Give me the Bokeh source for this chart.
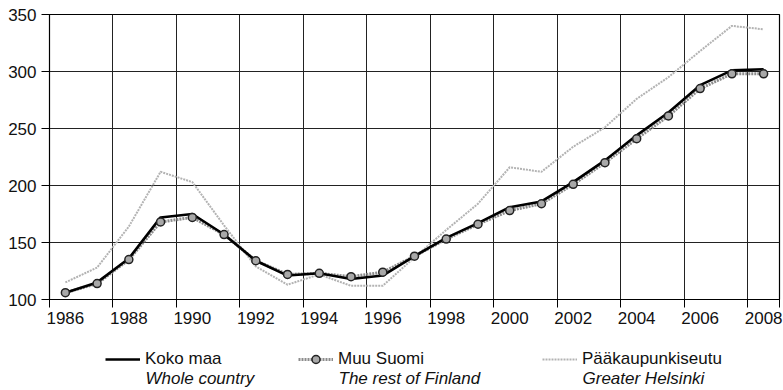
from bokeh.plotting import figure
from bokeh.layouts import column
from bokeh.models import (Range1d, FixedTicker, Legend, LegendItem, Label)
from bokeh.embed import file_html
from bokeh.resources import INLINE

years = list(range(1986, 2009))
koko_maa = [106, 115, 136, 172, 175, 157, 134, 121, 123, 118, 121, 138, 154,
            167, 181, 186, 203, 222, 244, 264, 288, 301, 302]
muu_suomi = [106, 114, 135, 168, 172, 157, 134, 122, 123, 120, 124, 138, 153,
             166, 178, 184, 201, 220, 241, 261, 285, 298, 298]
paakaupunkiseutu = [115, 128, 164, 212, 203, 165, 129, 113, 122, 112, 112, 137,
                    161, 184, 216, 212, 234, 251, 276, 295, 318, 340, 337]
x_tick_labels = [1986, 1988, 1990, 1992, 1994, 1996, 1998, 2000, 2002, 2004, 2006, 2008]
y_ticks = [100, 150, 200, 250, 300, 350]
legend_titles = ["Koko maa", "Muu Suomi", "Pääkaupunkiseutu"]
legend_subtitles = ["Whole  country", "The rest of Finland", "Greater Helsinki"]

FONT = "Liberation Sans"
FS = "17px"

STYLE_PK = dict(line_color="#b3b3b3", line_width=2, line_dash="2 1")
STYLE_MUU = dict(line_color="#8c8c8c", line_width=3, line_dash="2 1")
STYLE_KOKO = dict(line_color="black", line_width=2.6)
STYLE_PTS = dict(size=8, fill_color="#a8a8a8", line_color="#222222", line_width=1.5)

boundaries = [y - 0.5 for y in years[::2]] + [years[-1] + 0.5]

# ---------------- main chart ----------------
p = figure(width=783, height=335, output_backend="svg", toolbar_location=None,
           x_range=Range1d(years[0] - 0.5, years[-1] + 0.5),
           y_range=Range1d(y_ticks[0], y_ticks[-1]),
           min_border_left=49, min_border_right=4, min_border_top=14,
           min_border_bottom=36)
p.background_fill_color = "white"
p.border_fill_color = "white"
p.outline_line_color = "black"
p.outline_line_width = 1.2

p.xgrid.ticker = FixedTicker(ticks=boundaries)
p.ygrid.ticker = FixedTicker(ticks=y_ticks)
for g in (p.xgrid, p.ygrid):
    g.grid_line_color = "#222222"
    g.grid_line_width = 1

xa = p.xaxis[0]
xa.ticker = FixedTicker(ticks=x_tick_labels, minor_ticks=boundaries)
xa.major_tick_out = 0
xa.major_tick_in = 0
xa.minor_tick_out = 8
xa.minor_tick_in = 0
xa.minor_tick_line_color = "black"
xa.axis_line_color = "black"
xa.major_label_standoff = 4
ya = p.yaxis[0]
ya.ticker = FixedTicker(ticks=y_ticks)
ya.major_tick_out = 8
ya.major_tick_in = 0
ya.minor_tick_out = 0
ya.minor_tick_in = 0
ya.major_tick_line_color = "black"
ya.axis_line_color = "black"
ya.major_label_standoff = 5
for ax in (xa, ya):
    ax.major_label_text_font = FONT
    ax.major_label_text_font_size = FS
    ax.major_label_text_color = "#111111"

p.line(years, paakaupunkiseutu, **STYLE_PK)
p.line(years, muu_suomi, **STYLE_MUU)
p.line(years, koko_maa, **STYLE_KOKO)
p.scatter(years, muu_suomi, **STYLE_PTS)

# ---------------- legend strip ----------------
leg = figure(width=783, height=55, output_backend="svg", toolbar_location=None,
             x_range=Range1d(0, 1), y_range=Range1d(0, 1),
             x_axis_location=None, y_axis_location=None,
             min_border_left=0, min_border_right=0, min_border_top=0,
             min_border_bottom=0)
leg.outline_line_color = None
leg.xgrid.visible = False
leg.ygrid.visible = False
leg.background_fill_color = "white"
leg.border_fill_color = "white"

# proxy renderers (same series, outside this strip's ranges) for legend glyphs
l_koko = leg.line(years, koko_maa, **STYLE_KOKO)
l_muu = leg.line(years, muu_suomi, **STYLE_MUU)
l_muu_pts = leg.scatter(years, muu_suomi, **STYLE_PTS)
l_pk = leg.line(years, paakaupunkiseutu, **STYLE_PK)

# positions are relative to the strip's frame, which the column aligns
# with the chart frame above (left edge at 49 px)
renderer_sets = [[l_koko], [l_muu, l_muu_pts], [l_pk]]
legend_x = [56, 249, 493]
for title, rs, lx in zip(legend_titles, renderer_sets, legend_x):
    lg = Legend(items=[LegendItem(label=title, renderers=rs)],
                location=(lx, 21), orientation="horizontal",
                padding=0, margin=0, spacing=0,
                glyph_width=35, glyph_height=20, label_height=20,
                label_standoff=5, border_line_color=None,
                background_fill_alpha=0,
                label_text_font=FONT, label_text_font_size=FS,
                label_text_color="#111111")
    leg.add_layout(lg, "center")

sub_x = [96, 289, 533]
for text, sx in zip(legend_subtitles, sub_x):
    leg.add_layout(Label(x=sx, y=12, x_units="screen", y_units="screen",
                         text=text, text_font=FONT, text_font_size=FS,
                         text_font_style="italic", text_baseline="middle",
                         text_color="#111111"))

layout = column(p, leg, spacing=0)
open("out.html", "w").write(file_html(layout, INLINE))
